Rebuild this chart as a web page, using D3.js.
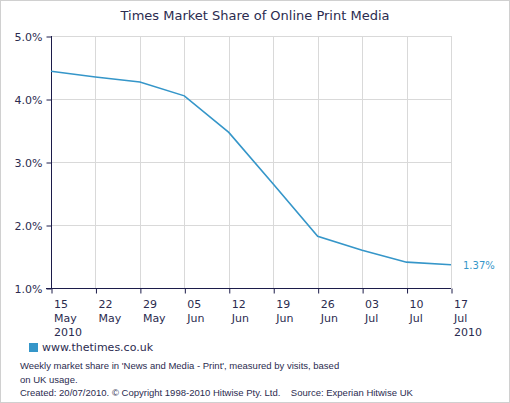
<!DOCTYPE html>
<html>
<head>
<meta charset="utf-8">
<script src="https://cdn.jsdelivr.net/npm/d3@7/dist/d3.min.js"></script>
<style>
  body { margin: 0; background: #fff; }
  svg { font-family: "DejaVu Sans", Verdana, sans-serif; }
</style>
</head>
<body>
<svg id="chart" width="510" height="403"></svg>
<script>
// data
var weeks = ['15 May 2010', '22 May', '29 May', '05 Jun', '12 Jun', '19 Jun', '26 Jun', '03 Jul', '10 Jul', '17 Jul 2010'];
var share = [4.44, 4.35, 4.27, 4.05, 3.47, 2.65, 1.82, 1.60, 1.41, 1.37];
var yTicks = [1, 2, 3, 4, 5];
var seriesName = 'www.thetimes.co.uk';
var notes = [
    "Weekly market share in 'News and Media - Print', measured by visits, based",
    "on UK usage.",
    "Created: 20/07/2010. \u00a9 Copyright 1998-2010 Hitwise Pty. Ltd.    Source: Experian Hitwise UK"
];

var svg = d3.select('#chart');
var lineColor = '#3596c9';
var textColor = '#2b2b4f';
var margin = {left: 51, right: 451, top: 36, bottom: 288};

// outer frame
svg.append('rect')
    .attr('x', 0.5).attr('y', 0.5)
    .attr('width', 509).attr('height', 402)
    .attr('fill', '#fff')
    .attr('stroke', '#d0d0d0');

svg.append('text')
    .attr('x', 255).attr('y', 20)
    .attr('text-anchor', 'middle')
    .attr('font-size', 13)
    .attr('fill', textColor)
    .text('Times Market Share of Online Print Media');

var x = d3.scalePoint().domain(weeks).range([margin.left, margin.right]);
var y = d3.scaleLinear().domain([1, 5]).range([margin.bottom, margin.top]);

// grid
var g = svg.append('g');
g.selectAll('.vgrid').data(weeks.slice(1)).enter().append('line')
    .attr('x1', function (d) { return Math.round(x(d)) + 0.5; })
    .attr('x2', function (d) { return Math.round(x(d)) + 0.5; })
    .attr('y1', margin.top).attr('y2', margin.bottom)
    .attr('stroke', '#d9d9d9');
g.selectAll('.hgrid').data(yTicks.slice(1)).enter().append('line')
    .attr('x1', margin.left).attr('x2', margin.right)
    .attr('y1', function (d) { return Math.round(y(d)) + 0.5; })
    .attr('y2', function (d) { return Math.round(y(d)) + 0.5; })
    .attr('stroke', '#d9d9d9');

// y axis
var yAxis = svg.append('g')
    .attr('transform', 'translate(' + (margin.left + 0.5) + ',0.5)')
    .call(d3.axisLeft(y).tickValues(yTicks).tickSize(5).tickPadding(4)
        .tickFormat(function (d) { return d3.format('.1f')(d) + '%'; }));

// x axis
var xAxis = svg.append('g')
    .attr('transform', 'translate(0.5,' + (margin.bottom + 0.5) + ')')
    .call(d3.axisBottom(x).tickSize(5).tickFormat(''));

[yAxis, xAxis].forEach(function (a) {
    a.select('.domain').attr('stroke', '#1c1c4a');
    a.selectAll('.tick line').attr('stroke', '#1c1c4a');
    a.selectAll('text').attr('fill', textColor)
        .attr('font-size', 11).attr('font-family', '"DejaVu Sans", Verdana, sans-serif');
});
yAxis.select('.domain').attr('d', 'M0,' + (margin.top - 0.5) + 'V' + (margin.bottom - 0.5));
xAxis.select('.domain').attr('d', 'M' + (margin.left - 5.5) + ',0H' + (margin.right - 0.5));

// multi-line x labels
xAxis.selectAll('.tick').each(function (d) {
    var t = d3.select(this).append('text')
        .attr('fill', textColor)
        .attr('font-size', 11)
        .attr('font-family', '"DejaVu Sans", Verdana, sans-serif')
        .attr('text-anchor', 'start')
        .attr('x', 2);
    d.split(' ').forEach(function (part, i) {
        t.append('tspan').attr('x', 2).attr('y', 19 + i * 14).text(part);
    });
});

// line
var line = d3.line()
    .x(function (d, i) { return x(weeks[i]); })
    .y(function (d) { return y(d); });
svg.append('path')
    .datum(share)
    .attr('d', line)
    .attr('fill', 'none')
    .attr('stroke', lineColor)
    .attr('stroke-width', 1.6);

svg.append('text')
    .attr('x', margin.right + 12)
    .attr('y', y(share[share.length - 1]) + 4)
    .attr('font-size', 10)
    .attr('fill', lineColor)
    .text(d3.format('.2f')(share[share.length - 1]) + '%');

// legend
svg.append('rect')
    .attr('x', 29).attr('y', 343)
    .attr('width', 9).attr('height', 9)
    .attr('fill', lineColor);
svg.append('text')
    .attr('x', 42).attr('y', 351)
    .attr('font-size', 11)
    .attr('fill', textColor)
    .text(seriesName);

// notes
svg.selectAll('.note').data(notes).enter().append('text')
    .attr('x', 20)
    .attr('y', function (d, i) { return 369 + i * 13.5; })
    .attr('font-size', 9.5)
    .attr('font-family', '"Liberation Sans", Arial, sans-serif')
    .attr('fill', textColor)
    .attr('xml:space', 'preserve')
    .style('white-space', 'pre')
    .text(function (d) { return d; });
</script>
</body>
</html>
